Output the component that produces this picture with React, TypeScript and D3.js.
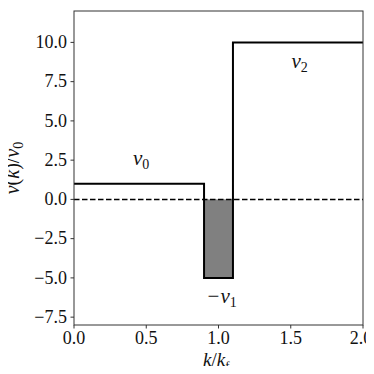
import React from 'react';
import * as d3 from 'd3';

// step function nu(k)/nu0
const stepK = [0, 0.9, 0.9, 1.1, 1.1, 2.0];
const stepNu = [1, 1, -5, -5, 10, 10];
const wellK = [0.9, 1.1];
const wellNu = -5;
const xTicks = [0, 0.5, 1.0, 1.5, 2.0];
const yTicks = [-7.5, -5, -2.5, 0, 2.5, 5, 7.5, 10];
const labelMain = ['ν', '−ν', 'ν'];
const labelSub = ['0', '1', '2'];
const labelK = [0.464, 1.021, 1.562];
const labelNu = [2.18, -6.6, 8.4];

const W = 374;
const H = 374;
const m = { top: 11, right: 11, bottom: 49, left: 74 };
const font = 'Liberation Serif';

const x = d3.scaleLinear().domain([0, 2]).range([m.left, W - m.right]);
const y = d3.scaleLinear().domain([-8, 12]).range([H - m.bottom, m.top]);
const fmt = (v: number) => d3.format('.1f')(v).replace('-', '−');
const stepLine = d3.line<[number, number]>().x(d => x(d[0])).y(d => y(d[1]));

const App = () => {
  const pts = stepK.map((k, i) => [k, stepNu[i]] as [number, number]);
  const txt = { fontFamily: font, fill: '#111' };
  return (
    <svg width={W} height={H} style={{ display: 'block', margin: -8 }}>
      <rect x={x(wellK[0])} y={y(0)} width={x(wellK[1]) - x(wellK[0])} height={y(wellNu) - y(0)} fill="#808080" />
      <line x1={x(0)} x2={x(2)} y1={y(0)} y2={y(0)} stroke="black" strokeWidth={1.5} strokeDasharray="5.5,2.5" />
      <path d={stepLine(pts) || ''} fill="none" stroke="black" strokeWidth={2} />
      <rect x={x(0)} y={y(12)} width={x(2) - x(0)} height={y(-8) - y(12)} fill="none" stroke="#333" strokeWidth={1} />

      {xTicks.map(t => (
        <g key={'x' + t} transform={`translate(${x(t)},${y(-8)})`}>
          <line y2={3.5} stroke="#333" />
          {/* keep the last label inside the page */}
          <text y={19} dx={Math.min(0, W - 1 - x(t) - 12)} textAnchor="middle" style={{ ...txt, fontSize: 18 }}>{fmt(t)}</text>
        </g>
      ))}
      {yTicks.map(t => (
        <g key={'y' + t} transform={`translate(${x(0)},${y(t)})`}>
          <line x2={-3.5} stroke="#333" />
          <text x={-7} dy="0.32em" textAnchor="end" style={{ ...txt, fontSize: 18 }}>{fmt(t)}</text>
        </g>
      ))}

      {labelMain.map((t, i) => (
        <text key={'l' + i} x={x(labelK[i])} y={y(labelNu[i])} textAnchor="middle" style={{ ...txt, fontSize: 21 }}>
          <tspan style={{ fontStyle: 'italic' }}>{t}</tspan>
          <tspan dy={4} style={{ fontSize: 14 }}>{labelSub[i]}</tspan>
        </text>
      ))}

      <text x={x(0.985)} y={366} textAnchor="middle" style={{ ...txt, fontSize: 19 }}>
        <tspan style={{ fontStyle: 'italic' }}>k</tspan>
        <tspan>/</tspan>
        <tspan style={{ fontStyle: 'italic' }}>k</tspan>
        <tspan dy={4} style={{ fontSize: 13 }}>f</tspan>
      </text>

      <text transform="translate(19,168) rotate(-90)" textAnchor="middle" style={{ ...txt, fontSize: 20 }}>
        <tspan style={{ fontStyle: 'italic' }}>ν̂</tspan>
        <tspan>(</tspan>
        <tspan style={{ fontStyle: 'italic' }}>k</tspan>
        <tspan>)/</tspan>
        <tspan style={{ fontStyle: 'italic' }}>ν</tspan>
        <tspan dy={4} style={{ fontSize: 14 }}>0</tspan>
      </text>
    </svg>
  );
};

export default App;
